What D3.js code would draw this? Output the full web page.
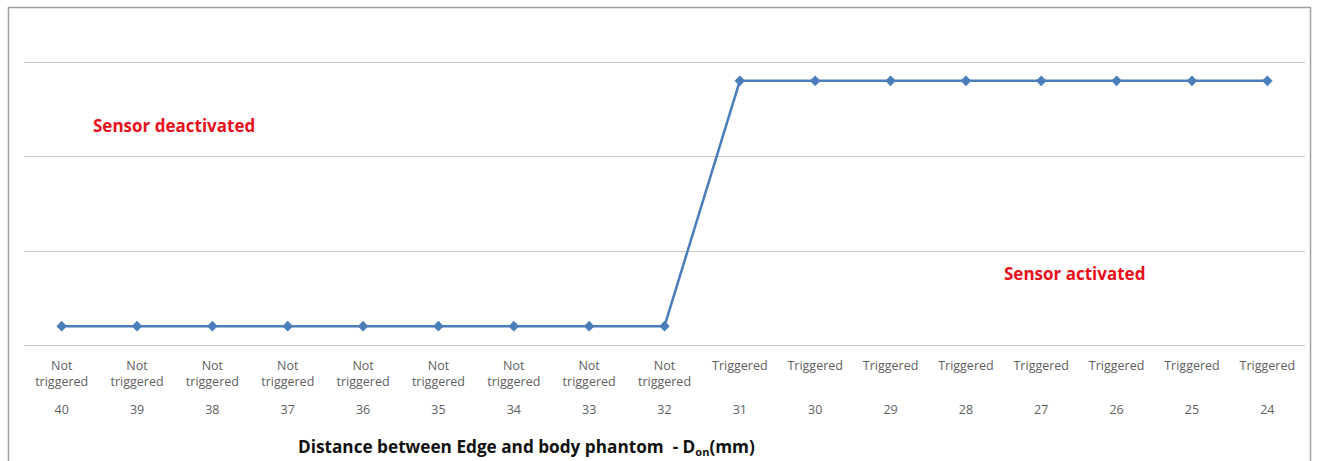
<!DOCTYPE html>
<html>
<head>
<meta charset="utf-8">
<script src="https://cdn.jsdelivr.net/npm/d3@7"></script>
<style>
  body { margin: 0; background: #fff; }
  svg { display: block; }
</style>
</head>
<body>
<div id="chart"></div>
<script>
// distance values (mm) and sensor state, left to right
const distances = [40, 39, 38, 37, 36, 35, 34, 33, 32, 31, 30, 29, 28, 27, 26, 25, 24];
const states = ['Not triggered', 'Not triggered', 'Not triggered', 'Not triggered', 'Not triggered',
  'Not triggered', 'Not triggered', 'Not triggered', 'Not triggered',
  'Triggered', 'Triggered', 'Triggered', 'Triggered', 'Triggered', 'Triggered', 'Triggered', 'Triggered'];
const levels = [0.2, 0.2, 0.2, 0.2, 0.2, 0.2, 0.2, 0.2, 0.2, 2.8, 2.8, 2.8, 2.8, 2.8, 2.8, 2.8, 2.8];
const yTicks = [0, 1, 2, 3];

const W = 1319, H = 461;
const margin = { top: 62, right: 14, bottom: 116, left: 24 };
const font = '"Open Sans", "Liberation Sans", sans-serif';

const svg = d3.select('#chart').append('svg')
  .attr('width', W).attr('height', H);

// chart border
svg.append('rect')
  .attr('x', 8.5).attr('y', 7.5).attr('width', 1302).attr('height', 470)
  .attr('fill', 'none').attr('stroke', '#a0a0a0').attr('stroke-width', 1.5);

const x = d3.scaleBand()
  .domain(distances.map(String))
  .range([margin.left, W - margin.right]);

const y = d3.scaleLinear()
  .domain([0, 3])
  .range([H - margin.bottom, margin.top]);

// gridlines
svg.append('g').selectAll('line').data(yTicks).join('line')
  .attr('x1', margin.left).attr('x2', W - margin.right)
  .attr('y1', d => Math.round(y(d)) + 0.5).attr('y2', d => Math.round(y(d)) + 0.5)
  .attr('stroke', '#c8c8c8').attr('stroke-width', 1);

// category labels
const cat = svg.append('g')
  .style('font-family', font).style('font-size', '12.5px').attr('fill', '#606060')
  .attr('text-anchor', 'middle');

distances.forEach((d, i) => {
  const cx = x(String(d)) + x.bandwidth() / 2;
  const words = states[i] === 'Triggered' ? ['Triggered'] : ['Not', 'triggered'];
  words.forEach((w, j) => {
    cat.append('text').attr('x', cx).attr('y', 370 + j * 16).text(w);
  });
  cat.append('text').attr('x', cx).attr('y', 414).text(d);
});

// line + diamond markers
const pts = distances.map((d, i) => [x(String(d)) + x.bandwidth() / 2, y(levels[i])]);

svg.append('path')
  .attr('d', d3.line()(pts))
  .attr('fill', 'none').attr('stroke', '#4a7ebb').attr('stroke-width', 2.5);

svg.append('g').selectAll('path').data(pts).join('path')
  .attr('transform', d => `translate(${d[0]},${d[1]}) rotate(45)`)
  .attr('d', d3.symbol(d3.symbolSquare, 56))
  .attr('fill', '#4a7ebb');

// annotations
svg.append('text')
  .attr('x', 93).attr('y', 132)
  .style('font-family', font).style('font-size', '17px').style('font-weight', 'bold')
  .attr('fill', '#e8101a').text('Sensor deactivated');

svg.append('text')
  .attr('x', 1004).attr('y', 280)
  .style('font-family', font).style('font-size', '17px').style('font-weight', 'bold')
  .attr('fill', '#e8101a').text('Sensor activated');

// axis title
const title = svg.append('text')
  .attr('x', 298).attr('y', 453)
  .style('font-family', font).style('font-size', '17.2px').style('font-weight', 'bold')
  .style('white-space', 'pre')
  .attr('fill', '#111');
title.append('tspan').text('Distance between Edge and body phantom  - D');
title.append('tspan').attr('dy', 3).style('font-size', '11px').text('on');
title.append('tspan').attr('dy', -3).text('(mm)');
</script>
</body>
</html>
